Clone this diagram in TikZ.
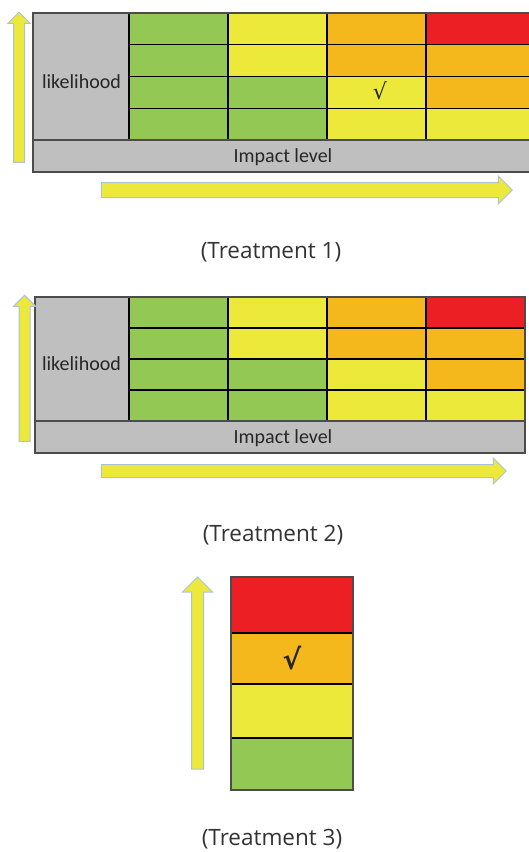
\documentclass[tikz,border=0pt]{standalone}
\usepackage{fontspec}
\setmainfont{Carlito}
\newfontfamily\capfont{Open Sans}
\newfontfamily\symfont{DejaVu Sans}
\usepackage{xcolor}
\usepackage{tikz}
\usetikzlibrary{shapes,arrows}
\definecolor{riskgreen}{RGB}{146,200,83}
\definecolor{riskyellow}{RGB}{237,233,58}
\definecolor{riskorange}{RGB}{245,184,28}
\definecolor{riskred}{RGB}{236,32,36}
\definecolor{riskgray}{RGB}{191,191,191}
\definecolor{arrowedge}{RGB}{170,195,215}
\tikzstyle{cell} = [draw=black, line width=1.2pt]
\tikzstyle{frame} = [draw=black!70, line width=1.6pt]
\tikzstyle{label} = [font=\fontsize{20}{24}\selectfont, text=black!85, inner sep=0pt]
\tikzstyle{caption} = [font=\capfont\fontsize{22.5}{26}\selectfont, text=black!80, anchor=base, inner sep=0pt]
\tikzstyle{tick} = [font=\symfont\fontsize{22}{26}\selectfont, text=black!85, inner sep=0pt]
\tikzstyle{bigarrow} = [single arrow, draw=arrowedge, fill=riskyellow, line width=1pt, outer sep=0pt]

\begin{document}
\begin{tikzpicture}[x=1pt, y=-1pt]
\useasboundingbox (0,0) rectangle (529,852);

\foreach \lft/\top/\rh/\rgt/\name in {33/13/31.75/531/one, 35/297/31/525/two} {
  \path [frame, fill=riskgray] (\lft,\top) rectangle (\rgt,\top+4*\rh+32);
  \foreach \c [count=\i from 0] in {riskgreen,riskyellow,riskorange,riskred,
      riskgreen,riskyellow,riskorange,riskorange,
      riskgreen,riskgreen,riskyellow,riskorange,
      riskgreen,riskgreen,riskyellow,riskyellow} {
    \pgfmathtruncatemacro\col{mod(\i,4)}
    \pgfmathtruncatemacro\row{(\i-\col)/4}
    \pgfmathsetmacro\xa{129+99*\col}
    \pgfmathsetmacro\xb{\col==3 ? \rgt : \xa+99}
    \path [cell, fill=\c] (\xa,\top+\rh*\row) rectangle (\xb,\top+\rh*\row+\rh);
  }
  \path [frame] (\lft,\top+4*\rh) -- (\rgt,\top+4*\rh);
  \path [frame] (\lft,\top) rectangle (\rgt,\top+4*\rh+32);
  \node [label] (like-\name) at (81.5,\top+2*\rh+5) {likelihood};
  \node [label, anchor=base] (impact-\name) at (283,\top+4*\rh+22) {Impact level};
}
\node [tick] (tick-one) at (380,91) {√};

\node [bigarrow, rotate=90, minimum height=150pt, inner sep=5pt, single arrow head extend=5.5pt] (up-one) at (19,90) {};
\node [bigarrow, minimum height=411pt, inner sep=7pt, single arrow head extend=6.5pt] (right-one) at (303,190) {};
\node [caption] (cap-one) at (271,258) {(Treatment 1)};

\node [bigarrow, rotate=90, minimum height=146pt, inner sep=5pt, single arrow head extend=5.5pt] (up-two) at (24.7,371) {};
\node [bigarrow, minimum height=405pt, inner sep=6pt, single arrow head extend=6.5pt] (right-two) at (300.5,471) {};
\node [caption] (cap-two) at (273,541) {(Treatment 2)};

\path [cell, fill=riskred] (231,577) rectangle (353,633);
\path [cell, fill=riskorange] (231,633) rectangle (353,684);
\path [cell, fill=riskyellow] (231,684) rectangle (353,738);
\path [cell, fill=riskgreen] (231,738) rectangle (353,790);
\path [frame] (231,577) rectangle (353,790);
\node [tick, font=\symfont\bfseries\fontsize{28}{32}\selectfont] (tick-three) at (292,658) {√};
\node [bigarrow, rotate=90, minimum height=192pt, inner sep=5.5pt, single arrow head extend=9pt] (up-three) at (197.5,676) {};
\node [caption] (cap-three) at (272,845) {(Treatment 3)};
\end{tikzpicture}
\end{document}
